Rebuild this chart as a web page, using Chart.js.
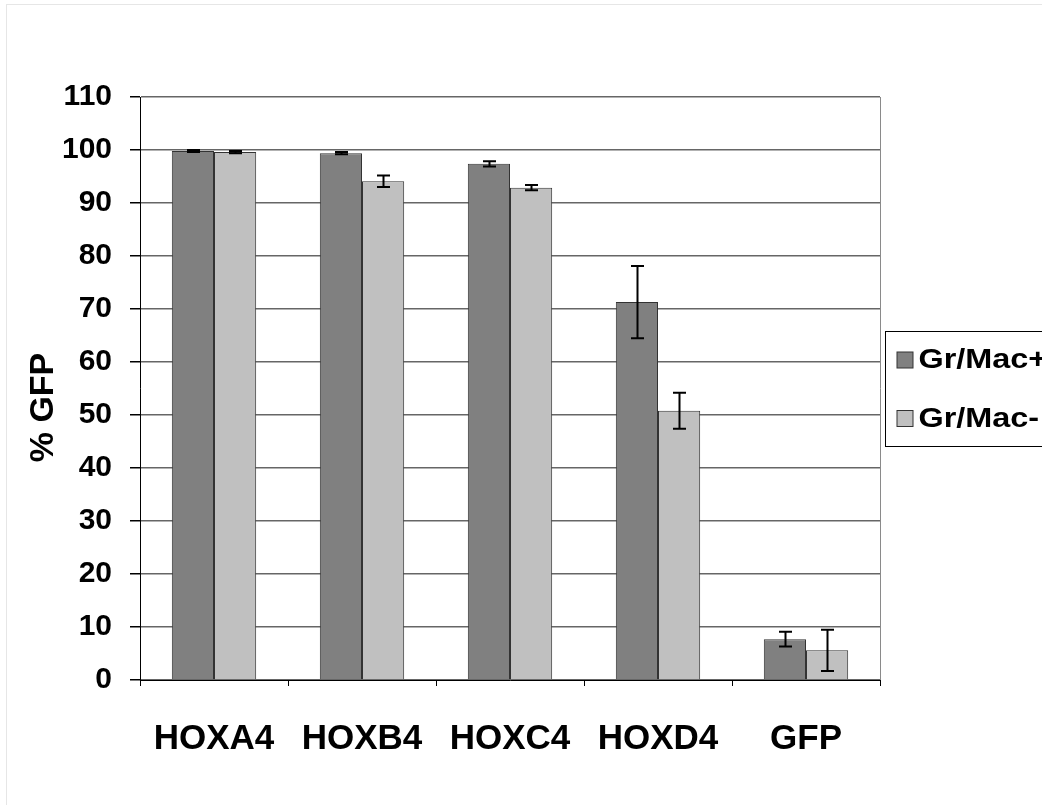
<!DOCTYPE html>
<html>
<head>
<meta charset="utf-8">
<script src="https://cdn.jsdelivr.net/npm/chart.js@4.4.1/dist/chart.umd.min.js"></script>
<style>
  html, body { margin: 0; padding: 0; background: #fff; overflow: hidden; }
  #wrap { position: relative; width: 1042px; height: 805px; }
  #frame { position: absolute; left: 6px; top: 4px; right: 0; bottom: 0;
           border-left: 1px solid #e6e6e6; border-top: 1px solid #e6e6e6; pointer-events: none; }
</style>
</head>
<body>
<div id="wrap">
  <canvas id="barchart" width="1042" height="805"></canvas>
  <div id="frame"></div>
</div>
<script>
var categories = ["HOXA4", "HOXB4", "HOXC4", "HOXD4", "GFP"];
var grMacPos = [99.8, 99.4, 97.4, 71.3, 7.7];
var grMacPosErr = [0.2, 0.2, 0.5, 6.8, 1.4];
var grMacNeg = [99.6, 94.1, 92.9, 50.8, 5.6];
var grMacNegErr = [0.2, 1.1, 0.5, 3.4, 3.9];
var yTicks = [0, 10, 20, 30, 40, 50, 60, 70, 80, 90, 100, 110];
var yTitle = "% GFP";

var FONT = "'Liberation Sans', Arial, sans-serif";

// error bars drawn through the scales
var errorBars = {
  id: 'errorBars',
  afterDatasetsDraw: function(chart) {
    var ctx = chart.ctx;
    var y = chart.scales.y;
    ctx.save();
    ctx.strokeStyle = '#000';
    ctx.lineWidth = 2;
    chart.data.datasets.forEach(function(ds, di) {
      var meta = chart.getDatasetMeta(di);
      meta.data.forEach(function(bar, i) {
        var v = ds.data[i], e = ds.errors[i];
        var top = y.getPixelForValue(v + e);
        var bot = y.getPixelForValue(v - e);
        var x = Math.round(bar.x) + 0.5;
        ctx.beginPath();
        ctx.moveTo(x, top); ctx.lineTo(x, bot);
        ctx.moveTo(x - 6.5, top); ctx.lineTo(x + 6.5, top);
        ctx.moveTo(x - 6.5, bot); ctx.lineTo(x + 6.5, bot);
        ctx.stroke();
      });
    });
    ctx.restore();
  }
};

// right border of plot area, y title and boxed legend
var frameAndLegend = {
  id: 'frameAndLegend',
  afterDraw: function(chart) {
    var ctx = chart.ctx;
    var a = chart.chartArea;
    var mid = (a.top + a.bottom) / 2;
    ctx.save();
    ctx.strokeStyle = '#8a8a8a';
    ctx.lineWidth = 1;
    ctx.beginPath();
    ctx.moveTo(a.right + 0.5, a.top);
    ctx.lineTo(a.right + 0.5, a.bottom);
    ctx.stroke();

    // y axis title, a little below centre as in the original
    ctx.save();
    ctx.translate(44, mid + 19);
    ctx.rotate(-Math.PI / 2);
    ctx.font = 'bold 34px ' + FONT;
    ctx.textAlign = 'center';
    ctx.textBaseline = 'middle';
    ctx.fillStyle = '#000';
    ctx.fillText(yTitle, 0, 0);
    ctx.restore();

    var bx = a.right + 5.5, by = Math.round(mid - 58) + 0.5;
    ctx.strokeStyle = '#000';
    ctx.strokeRect(bx, by, 200, 115);
    ctx.textBaseline = 'middle';
    chart.data.datasets.forEach(function(ds, i) {
      var cy = by + 28.5 + i * 58.5;
      ctx.fillStyle = ds.backgroundColor;
      ctx.fillRect(bx + 11.5, cy - 8, 16, 16);
      ctx.strokeStyle = '#333';
      ctx.strokeRect(bx + 11.5, cy - 8, 16, 16);
      ctx.save();
      ctx.translate(bx + 33, cy + 1);
      ctx.scale(1.2, 1);
      ctx.font = 'bold 27px ' + FONT;
      ctx.fillStyle = '#000';
      ctx.fillText(ds.label, 0, 0);
      ctx.restore();
    });
    ctx.restore();
  }
};

var ctx = document.getElementById("barchart");
var myChart = new Chart(ctx, {
  type: 'bar',
  data: {
    labels: categories,
    datasets: [
      { label: "Gr/Mac+", data: grMacPos, errors: grMacPosErr,
        backgroundColor: '#808080', borderColor: '#333', borderWidth: 1 },
      { label: "Gr/Mac-", data: grMacNeg, errors: grMacNegErr,
        backgroundColor: '#c0c0c0', borderColor: '#333', borderWidth: 1 }
    ]
  },
  options: {
    responsive: false,
    animation: false,
    layout: { padding: { top: 97, right: 162, left: 0, bottom: 0 } },
    categoryPercentage: 0.57,
    barPercentage: 1.0,
    plugins: {
      legend: { display: false },
      tooltip: { enabled: false }
    },
    scales: {
      x: {
        afterFit: function(s) { s.height = 125; },
        grid: { offset: true, drawOnChartArea: false, drawTicks: true, tickLength: 6, tickColor: '#000' },
        border: { display: true, color: '#000', width: 1 },
        ticks: { color: '#000', font: { family: FONT, size: 35, weight: 'bold' }, padding: 32, maxRotation: 0 }
      },
      y: {
        min: 0, max: 110,
        afterFit: function(s) { s.width = 140; },
        afterBuildTicks: function(s) { s.ticks = yTicks.map(function(v) { return { value: v }; }); },
        grid: { color: '#666', lineWidth: 1.5, tickLength: 10, tickColor: '#000', drawTicks: true },
        border: { display: true, color: '#000', width: 1 },
        ticks: { color: '#000', font: { family: FONT, size: 30, weight: 'bold' }, padding: 18 }
      }
    }
  },
  plugins: [errorBars, frameAndLegend]
});
</script>
</body>
</html>
